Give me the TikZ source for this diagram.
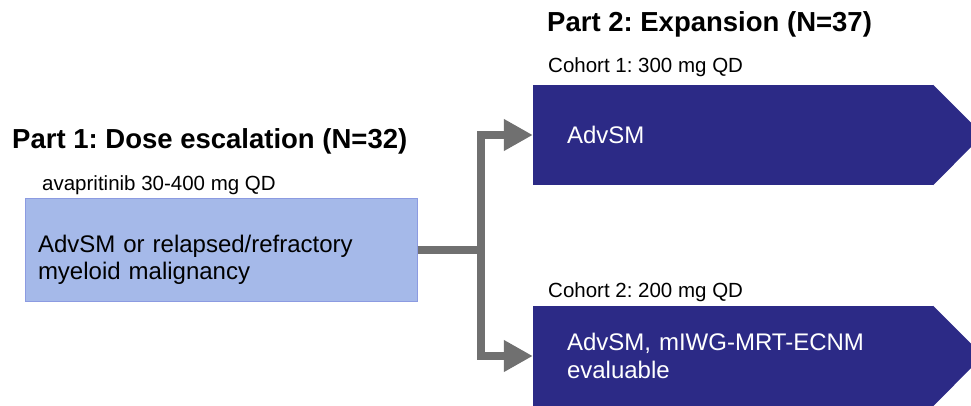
\documentclass[tikz,border=0pt]{standalone}
\usepackage{fontspec}
\setmainfont{Liberation Sans}
\frenchspacing
\usetikzlibrary{arrows.meta,positioning}
\definecolor{armnavy}{RGB}{44,42,134}
\definecolor{esclight}{RGB}{165,185,233}
\definecolor{escedge}{RGB}{140,155,225}
\definecolor{flowgray}{RGB}{112,112,112}
\begin{document}
\begin{tikzpicture}[x=1pt,y=1pt,
    head/.style={anchor=base west,inner sep=0pt,font=\fontsize{27.5}{33}\selectfont\bfseries},
    dosetext/.style={anchor=base west,inner sep=0pt,font=\fontsize{20.5}{24}\selectfont},
    escbox/.style={draw=escedge,line width=1pt,fill=esclight,minimum width=392pt,minimum height=103pt,
      inner xsep=13pt,text width=366pt,text depth=11pt,align=left,font=\fontsize{24}{27}\selectfont},
    armbox/.style={fill=armnavy,text=white,minimum width=400pt,minimum height=100pt,
      inner xsep=34pt,text width=332pt,align=left,font=\fontsize{24}{28}\selectfont},
    flow/.style={draw=flowgray,line width=8pt}]
  \useasboundingbox (0,0) rectangle (971,405);
  % part 1
  \node[head] (part1) at (12,257) {Part 1: Dose escalation (N=32)};
  \node[dosetext] (dose) at (42,215) {avapritinib 30-400 mg QD};
  \node[escbox] (esc) at (221,155.5) {AdvSM or relapsed/refractory\\myeloid malignancy};
  % part 2
  \node[head] (part2) at (547,373) {Part 2: Expansion (N=37)};
  \node[dosetext] (coh1) at (548,332) {Cohort 1: 300 mg QD};
  \node[armbox] (arm1) at (733,270) {AdvSM};
  \fill[armnavy] (arm1.north east) -- ++(50,-50) -- (arm1.south east) -- cycle;
  \node[dosetext] (coh2) at (548,108) {Cohort 2: 200 mg QD};
  \node[armbox] (arm2) at (733,49) {AdvSM, mIWG-MRT-ECNM\\evaluable};
  \fill[armnavy] (arm2.north east) -- ++(50,-50) -- (arm2.south east) -- cycle;
  % arrows
  \draw[flow] (esc.east) -- ++(63,0) coordinate (split);
  \draw[flow,-{Triangle[length=29pt,width=30pt]}] (split) |- (arm1.west);
  \draw[flow,-{Triangle[length=29pt,width=30pt]}] (split) |- (arm2.west);
\end{tikzpicture}
\end{document}
